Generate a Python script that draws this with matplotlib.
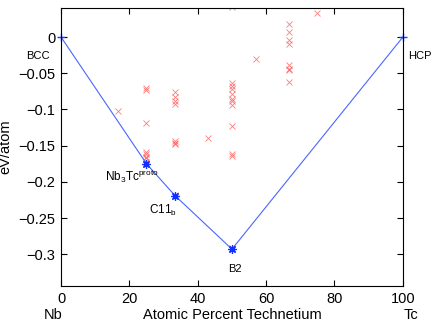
import numpy as np
import matplotlib
matplotlib.use('Agg')
import matplotlib.pyplot as plt
import matplotlib as mpl

mpl.rcParams['font.family'] = ['Liberation Sans', 'DejaVu Sans']
mpl.rcParams['font.size'] = 9
mpl.rcParams['mathtext.default'] = 'regular'
mpl.rcParams['xtick.top'] = True
mpl.rcParams['ytick.right'] = True
mpl.rcParams['xtick.direction'] = 'in'
mpl.rcParams['ytick.direction'] = 'in'

# convex hull (ground states)
hull_x = [0, 25, 33.33, 50, 100]
hull_y = [0, -0.175, -0.219, -0.293, 0]

# all calculated structures
calc_x = [16.67,
          25, 25, 25, 25, 25, 25, 25, 25,
          33.33, 33.33, 33.33, 33.33, 33.33, 33.33, 33.33, 33.33,
          42.86,
          50, 50, 50, 50, 50, 50, 50, 50, 50, 50, 50, 50,
          57.14,
          66.67, 66.67, 66.67, 66.67, 66.67, 66.67, 66.67, 66.67,
          75]
calc_y = [-0.102,
          -0.071, -0.073, -0.119, -0.159, -0.162, -0.165, -0.167, -0.172,
          -0.0765, -0.083, -0.088, -0.093, -0.144, -0.146, -0.148, -0.218,
          -0.139,
          0.041, -0.064, -0.068, -0.072, -0.078, -0.085, -0.089, -0.094,
          -0.1235, -0.162, -0.164, -0.291,
          -0.030,
          0.018, 0.0065, -0.0046, -0.0097, -0.039, -0.044, -0.046, -0.062,
          0.0336]

yticks = [0, -0.05, -0.1, -0.15, -0.2, -0.25, -0.3]
ytick_labels = ['0', '\u22120.05', '\u22120.1', '\u22120.15', '\u22120.2', '\u22120.25', '\u22120.3']

fig = plt.figure(figsize=(4.36, 3.24), dpi=100)
ax = fig.add_axes([0.140, 0.117, 0.784, 0.858])

ax.plot(calc_x, calc_y, 'x', color='#ff5050', ms=4.5, mew=0.6, alpha=0.75, clip_on=True)
ax.plot(hull_x, hull_y, '-', color='#4a66ff', lw=0.8)
ax.plot([hull_x[0], hull_x[-1]], [hull_y[0], hull_y[-1]], '+', color='#2040ff',
        ms=6, mew=1.0, clip_on=False)
ax.plot(hull_x[1:-1], hull_y[1:-1], ls='none', marker=(8, 2, 0), color='#1030ff',
        ms=6, mew=0.9)

ax.set_xlim(0, 100)
ax.set_ylim(-0.344, 0.04)
ax.set_xticks([0, 20, 40, 60, 80, 100])
ax.set_yticks(yticks)
ax.set_yticklabels(ytick_labels)
ax.tick_params(length=4, width=0.8, labelsize=10.5, pad=4)
for s in ax.spines.values():
    s.set_linewidth(0.8)

ax.set_xlabel('Atomic Percent Technetium', fontsize=10.5, labelpad=2)
ax.set_ylabel('eV/atom', fontsize=10.5, labelpad=4)

ax.text(-2.4, -0.384, 'Nb', fontsize=10.5, ha='center', va='center', clip_on=False)
ax.text(102.3, -0.384, 'Tc', fontsize=10.5, ha='center', va='center', clip_on=False)

ax.text(-3.2, -0.026, 'BCC', fontsize=8, ha='right', va='center', clip_on=False)
ax.text(101.5, -0.026, 'HCP', fontsize=8, ha='left', va='center', clip_on=False)
ax.text(12.9, -0.193, 'Nb$_3$Tc$^{proto}$', fontsize=8.5, ha='left', va='center')
ax.text(25.7, -0.240, 'C11$_b$', fontsize=8.5, ha='left', va='center')
ax.text(50.9, -0.320, 'B2', fontsize=8, ha='center', va='center')

fig.savefig('out.png', dpi=100)
